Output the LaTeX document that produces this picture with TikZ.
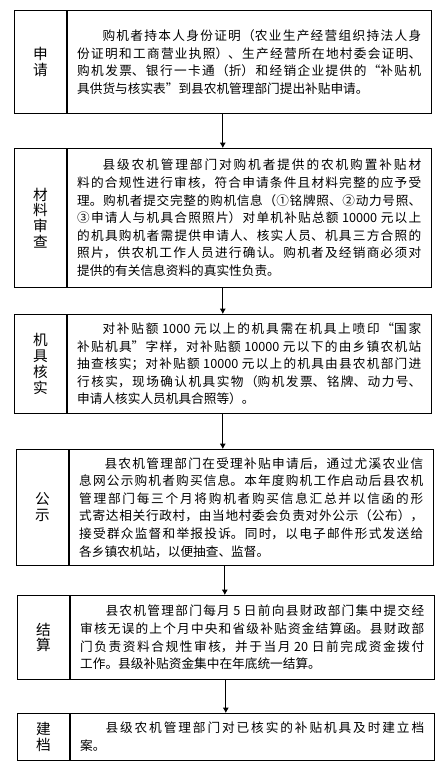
\documentclass[tikz,border=0pt]{standalone}
\usepackage{fontspec}
\newfontfamily\cjk{Noto Sans CJK SC}
\usetikzlibrary{arrows.meta,calc}
\XeTeXlinebreaklocale "zh"
\XeTeXlinebreakskip=0pt plus 2pt

\begin{document}
\begin{tikzpicture}[x=0.75pt, y=-0.75pt, line width=0.6pt, font=\cjk,
  stage/.style={draw, anchor=north west, inner sep=0pt, minimum width=39pt,
    align=center, font=\cjk\fontsize{11}{11.8}\selectfont},
  body/.style={draw, anchor=north west, text width=258pt, inner xsep=7.5pt,
    inner ysep=0pt, minimum width=273pt, align=justify,
    font=\cjk\fontsize{9.5}{13.2}\selectfont},
  flow/.style={-{Latex[length=4pt,width=4.5pt]}}]

  \useasboundingbox (0,0) rectangle (444,768);

  % ---------- application ----------
  \node[stage, minimum height=77.25pt] (lab1) at (14,10) {申\\请};
  \node[body, minimum height=77.25pt] (txt1) at (lab1.north east)
    {\hspace*{2em}购机者持本人身份证明（农业生产经营组织持法人身\linebreak
     份证明和工商营业执照）、生产经营所在地村委会证明、\linebreak
     购机发票、银行一卡通（折）和经销企业提供的“补贴机\linebreak
     具供货与核实表”到县农机管理部门提出补贴申请。};

  % ---------- material review ----------
  \node[stage, minimum height=104.25pt] (lab2) at (14,148) {材\\料\\审\\查};
  \node[body, minimum height=104.25pt] (txt2) at (lab2.north east)
    {\hspace*{2em}县级农机管理部门对购机者提供的农机购置补贴材\linebreak
     料的合规性进行审核，符合申请条件且材料完整的应予受\linebreak
     理。购机者提交完整的购机信息（①铭牌照、②动力号照、\linebreak
     ③申请人与机具合照照片）对单机补贴总额 10000 元以上\linebreak
     的机具购机者需提供申请人、核实人员、机具三方合照的\linebreak
     照片，供农机工作人员进行确认。购机者及经销商必须对\linebreak
     提供的有关信息资料的真实性负责。};

  % ---------- machine check ----------
  \node[stage, minimum height=74.25pt] (lab3) at (14,314) {机\\具\\核\\实};
  \node[body, minimum height=74.25pt] (txt3) at (lab3.north east)
    {\hspace*{2em}对补贴额 1000 元以上的机具需在机具上喷印“国家\linebreak
     补贴机具”字样，对补贴额 10000 元以下的由乡镇农机站\linebreak
     抽查核实；对补贴额 10000 元以上的机具由县农机部门进\linebreak
     行核实，现场确认机具实物（购机发票、铭牌、动力号、\linebreak
     申请人核实人员机具合照等）。};

  % ---------- publicity ----------
  \node[stage, minimum height=87pt] (lab4) at (16,449) {公\\示};
  \node[body, minimum height=87pt] (txt4) at (lab4.north east)
    {\hspace*{2em}县农机管理部门在受理补贴申请后，通过尤溪农业信\linebreak
     息网公示购机者购买信息。本年度购机工作启动后县农机\linebreak
     管理部门每三个月将购机者购买信息汇总并以信函的形\linebreak
     式寄达相关行政村，由当地村委会负责对外公示（公布），\linebreak
     接受群众监督和举报投诉。同时，以电子邮件形式发送给\linebreak
     各乡镇农机站，以便抽查、监督。};

  % ---------- settlement ----------
  \node[stage, minimum height=63pt] (lab5) at (17,595) {结\\算};
  \node[body, minimum height=63pt] (txt5) at (lab5.north east)
    {\hspace*{2em}县农机管理部门每月 5 日前向县财政部门集中提交经\linebreak
     审核无误的上个月中央和省级补贴资金结算函。县财政部\linebreak
     门负责资料合规性审核，并于当月 20 日前完成资金拨付\linebreak
     工作。县级补贴资金集中在年底统一结算。};

  % ---------- filing ----------
  \node[stage, minimum height=35.25pt] (lab6) at (17,713) {建\\档};
  \node[body, minimum height=35.25pt] (txt6) at (lab6.north east)
    {\hspace*{2em}县级农机管理部门对已核实的补贴机具及时建立档\linebreak
     案。};

  % ---------- arrows between stages ----------
  \foreach \a/\b in {1/2,2/3,3/4,4/5,5/6}
    \draw[flow] ($(lab\a.south west)!.5!(txt\a.south east)$) coordinate (out\a)
      -- (out\a |- lab\b.north);

\end{tikzpicture}
\end{document}
